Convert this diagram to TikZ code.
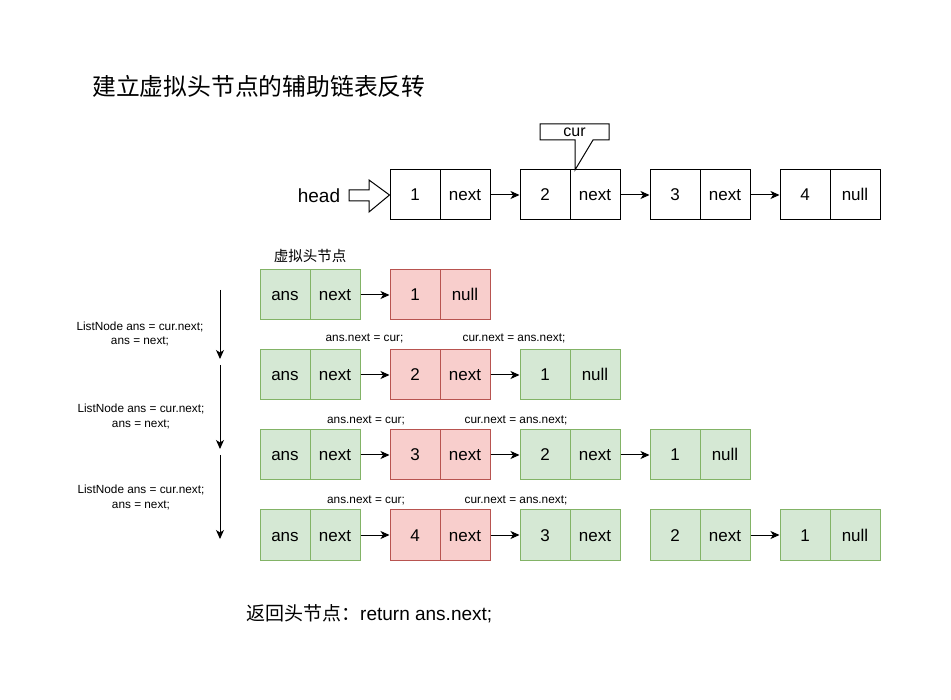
\documentclass[tikz,border=0pt]{standalone}
\usepackage{fontspec}
\setmainfont{Liberation Sans}
\newfontfamily\cjk{Noto Sans CJK SC}
\usetikzlibrary{arrows.meta}
\definecolor{greenfill}{HTML}{D5E8D4}
\definecolor{greenline}{HTML}{82B366}
\definecolor{redfill}{HTML}{F8CECC}
\definecolor{redline}{HTML}{B85450}

\begin{document}
\begin{tikzpicture}[x=1pt, y=-1pt,
  cell/.style={draw, line width=1pt, minimum width=50pt, minimum height=50pt, inner sep=0pt,
    text height=12pt, text depth=0pt, font=\fontsize{17}{20}\selectfont},
  gcell/.style={cell, draw=greenline, fill=greenfill},
  rcell/.style={cell, draw=redline, fill=redfill},
  arrow/.style={-{Stealth[length=9pt, width=8pt, inset=2.5pt]}, line width=1pt},
  note/.style={font=\fontsize{11.8}{14.5}\selectfont, align=center, inner sep=0pt}
]
  \useasboundingbox (0,0) rectangle (951,700);

  % title
  \node[font=\cjk\fontsize{23.8}{26}\selectfont, anchor=west, inner sep=0pt] (title) at (92,86) {建立虚拟头节点的辅助链表反转};

  % original list
  \node[cell] (n1v) at (415,195) {1};
  \node[cell] (n1p) at (465,195) {next};
  \node[cell] (n2v) at (545,195) {2};
  \node[cell] (n2p) at (595,195) {next};
  \node[cell] (n3v) at (675,195) {3};
  \node[cell] (n3p) at (725,195) {next};
  \node[cell] (n4v) at (805,195) {4};
  \node[cell] (n4p) at (855,195) {null};
  \draw[arrow] (n1p) -- (n2v);
  \draw[arrow] (n2p) -- (n3v);
  \draw[arrow] (n3p) -- (n4v);

  % head
  \node[font=\fontsize{19}{22}\selectfont] (head) at (319,196) {head};
  \draw[line width=1pt, fill=white] (n1v.west) -- (369,180) -- (369,190) -- (349,190)
    -- (349,201) -- (369,201) -- (369,212) -- cycle;

  % cur callout
  \draw[line width=1pt, fill=white] (540,124) -- (609,124) -- (609,140) -- (593,140)
    -- (575,170) -- (575,140) -- (540,140) -- cycle;
  \node[font=\fontsize{16}{18}\selectfont, text height=11pt, text depth=0pt, inner sep=0pt] (cur) at (574.5,131) {cur};

  % row 1
  \node[font=\cjk\fontsize{14.5}{16}\selectfont] (dummy) at (310,256) {虚拟头节点};
  \node[gcell] (a1) at (285,295) {ans};
  \node[gcell] (b1) at (335,295) {next};
  \node[rcell] (r1v) at (415,295) {1};
  \node[rcell] (r1p) at (465,295) {null};
  \draw[arrow] (b1) -- (r1v);

  % row 2
  \node[note] (l2a) at (364.5,338) {ans.next = cur;};
  \node[note] (l2b) at (514,338) {cur.next = ans.next;};
  \node[gcell] (a2) at (285,375) {ans};
  \node[gcell] (b2) at (335,375) {next};
  \node[rcell] (r2v) at (415,375) {2};
  \node[rcell] (r2p) at (465,375) {next};
  \node[gcell] (g2v) at (545,375) {1};
  \node[gcell] (g2p) at (595,375) {null};
  \draw[arrow] (b2) -- (r2v);
  \draw[arrow] (r2p) -- (g2v);

  % row 3
  \node[note] (l3a) at (366,420) {ans.next = cur;};
  \node[note] (l3b) at (516,420) {cur.next = ans.next;};
  \node[gcell] (a3) at (285,455) {ans};
  \node[gcell] (b3) at (335,455) {next};
  \node[rcell] (r3v) at (415,455) {3};
  \node[rcell] (r3p) at (465,455) {next};
  \node[gcell] (g3v) at (545,455) {2};
  \node[gcell] (g3p) at (595,455) {next};
  \node[gcell] (h3v) at (675,455) {1};
  \node[gcell] (h3p) at (725,455) {null};
  \draw[arrow] (b3) -- (r3v);
  \draw[arrow] (r3p) -- (g3v);
  \draw[arrow] (g3p) -- (h3v);

  % row 4
  \node[note] (l4a) at (366,500) {ans.next = cur;};
  \node[note] (l4b) at (516,500) {cur.next = ans.next;};
  \node[gcell] (a4) at (285,535) {ans};
  \node[gcell] (b4) at (335,535) {next};
  \node[rcell] (r4v) at (415,535) {4};
  \node[rcell] (r4p) at (465,535) {next};
  \node[gcell] (g4v) at (545,535) {3};
  \node[gcell] (g4p) at (595,535) {next};
  \node[gcell] (h4v) at (675,535) {2};
  \node[gcell] (h4p) at (725,535) {next};
  \node[gcell] (k4v) at (805,535) {1};
  \node[gcell] (k4p) at (855,535) {null};
  \draw[arrow] (b4) -- (r4v);
  \draw[arrow] (r4p) -- (g4v);
  \draw[arrow] (h4p) -- (k4v);

  % steps on the left
  \coordinate (s1) at (220,290);
  \coordinate (e1) at (220,359);
  \coordinate (s2) at (220,365);
  \coordinate (e2) at (220,449);
  \coordinate (s3) at (220,455);
  \coordinate (e3) at (220,539);
  \draw[arrow] (s1) -- (e1);
  \draw[arrow] (s2) -- (e2);
  \draw[arrow] (s3) -- (e3);
  \node[note] (t1) at (140,334) {ListNode ans = cur.next;\\ans = next;};
  \node[note] (t2) at (141,416.5) {ListNode ans = cur.next;\\ans = next;};
  \node[note] (t3) at (141,497.5) {ListNode ans = cur.next;\\ans = next;};

  % result
  \node[font=\fontsize{19}{22}\selectfont, anchor=west, inner sep=0pt] (result) at (246,614) {{\cjk 返回头节点：}return ans.next;};
\end{tikzpicture}
\end{document}
